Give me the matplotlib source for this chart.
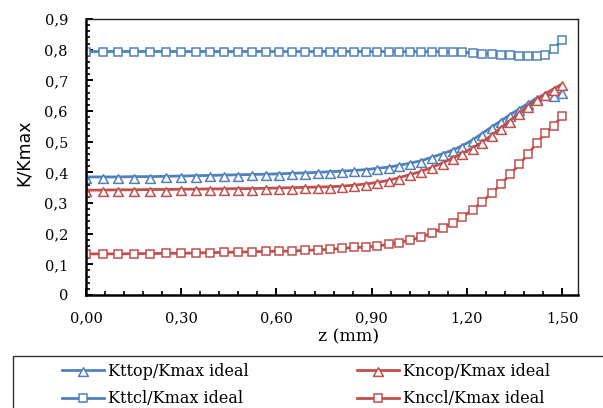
import matplotlib
matplotlib.use("Agg")
import matplotlib.pyplot as plt
from matplotlib.path import Path
from matplotlib.patches import Rectangle
from matplotlib.ticker import MultipleLocator, FuncFormatter

# ---- data ----
z = [0.000, 0.052, 0.102, 0.152, 0.201, 0.251, 0.299, 0.346, 0.390, 0.435,
     0.479, 0.523, 0.566, 0.608, 0.650, 0.689, 0.730, 0.770, 0.807, 0.844,
     0.881, 0.917, 0.954, 0.987, 1.022, 1.056, 1.089, 1.124, 1.156, 1.186,
     1.218, 1.247, 1.278, 1.307, 1.336, 1.365, 1.393, 1.420, 1.447, 1.473,
     1.500]

kttop = [0.385, 0.385, 0.385, 0.386, 0.386, 0.387, 0.388, 0.389, 0.390, 0.391,
         0.392, 0.393, 0.394, 0.395, 0.397, 0.398, 0.400, 0.402, 0.404, 0.406,
         0.409, 0.413, 0.417, 0.423, 0.430, 0.438, 0.449, 0.461, 0.473, 0.487,
         0.506, 0.526, 0.548, 0.568, 0.588, 0.607, 0.625, 0.642, 0.655, 0.651,
         0.661]

kttcl = [0.794, 0.794, 0.794, 0.794, 0.794, 0.794, 0.794, 0.794, 0.794, 0.794,
         0.794, 0.794, 0.794, 0.794, 0.794, 0.794, 0.794, 0.794, 0.794, 0.794,
         0.794, 0.794, 0.794, 0.794, 0.794, 0.794, 0.794, 0.794, 0.794, 0.792,
         0.789, 0.787, 0.786, 0.784, 0.781, 0.780, 0.778, 0.778, 0.781, 0.802,
         0.832]

kncop = [0.342, 0.342, 0.343, 0.343, 0.344, 0.344, 0.345, 0.345, 0.346, 0.346,
         0.347, 0.347, 0.348, 0.349, 0.350, 0.351, 0.352, 0.353, 0.355, 0.358,
         0.362, 0.367, 0.374, 0.383, 0.393, 0.403, 0.416, 0.431, 0.447, 0.462,
         0.480, 0.498, 0.521, 0.545, 0.569, 0.593, 0.617, 0.638, 0.657, 0.672,
         0.688]

knccl = [0.134, 0.134, 0.134, 0.135, 0.135, 0.136, 0.136, 0.137, 0.138, 0.139,
         0.140, 0.141, 0.142, 0.143, 0.143, 0.146, 0.147, 0.149, 0.152, 0.155,
         0.156, 0.160, 0.165, 0.171, 0.180, 0.188, 0.202, 0.218, 0.236, 0.254,
         0.278, 0.303, 0.332, 0.361, 0.393, 0.426, 0.459, 0.496, 0.527, 0.552,
         0.583]

labels = ["Kttop/Kmax ideal", "Kttcl/Kmax ideal",
          "Kncop/Kmax ideal", "Knccl/Kmax ideal"]

x_ticks = [0.0, 0.3, 0.6, 0.9, 1.2, 1.5]
y_ticks = [0.0, 0.1, 0.2, 0.3, 0.4, 0.5, 0.6, 0.7, 0.8, 0.9]

# ---- style ----
BLUE = "#4F81BD"
RED = "#C0504D"
SERIF = "DejaVu Serif"

# triangle marker shifted so that the line passes near its apex
tri = Path([(0, 0.56), (-1, -1.2), (1, -1.2), (0, 0.56)],
           [Path.MOVETO, Path.LINETO, Path.LINETO, Path.CLOSEPOLY])

W, H = 603, 408
fig = plt.figure(figsize=(W / 100, H / 100), dpi=100)
L, R, T, B = 86, 578, 19, 295
ax = fig.add_axes([L / W, 1 - B / H, (R - L) / W, (B - T) / H])

common = dict(lw=2.0, markerfacecolor="white", markeredgewidth=1.1)
h1, = ax.plot(z, kttop, color=BLUE, marker=tri, ms=8.5, **common)
h2, = ax.plot(z, kttcl, color=BLUE, marker="s", ms=5.3, **common)
h3, = ax.plot(z, kncop, color=RED, marker=tri, ms=8.5, **common)
h4, = ax.plot(z, knccl, color=RED, marker="s", ms=5.3, **common)

ax.set_xlim(0, 1.55)
ax.set_ylim(0, 0.9)
ax.set_xticks(x_ticks)
ax.set_yticks(y_ticks)
ax.xaxis.set_minor_locator(MultipleLocator(0.06))
ax.yaxis.set_minor_locator(MultipleLocator(0.02))
ax.xaxis.set_major_formatter(FuncFormatter(lambda v, p: f"{v:.2f}".replace(".", ",")))
ax.yaxis.set_major_formatter(FuncFormatter(
    lambda v, p: "0" if abs(v) < 1e-9 else f"{v:.1f}".replace(".", ",")))

ax.tick_params(which="both", direction="in", colors="black", top=False, right=False)
ax.tick_params(which="major", length=5, width=1.4)
ax.tick_params(which="minor", length=3, width=1.2)
ax.tick_params(axis="y", which="major", pad=13, labelsize=10.5)
ax.tick_params(axis="x", which="major", pad=12, labelsize=10.5)
for lab in ax.get_xticklabels() + ax.get_yticklabels():
    lab.set_fontfamily(SERIF)

for s in ["left", "bottom"]:
    ax.spines[s].set_linewidth(1.8)
    ax.spines[s].set_color("black")
for s in ["top", "right"]:
    ax.spines[s].set_linewidth(1.0)
    ax.spines[s].set_color("#222222")

ax.set_xlabel("z (mm)", fontsize=12.5, family=SERIF)
ax.xaxis.set_label_coords((349 - L) / (R - L), (B - 337) / (B - T))
ax.xaxis.label.set_va("center")
ax.set_ylabel("K/Kmax", fontsize=12.5, family="DejaVu Sans")
ax.yaxis.set_label_coords((24 - L) / (R - L), (B - 153) / (B - T))
ax.yaxis.label.set_va("center")

# legend frame (extends past the figure edge as in the reference)
fig.add_artist(Rectangle((13 / W, -0.2), 1.2, (H - 356) / H + 0.2,
                         transform=fig.transFigure, fill=False,
                         edgecolor="#333333", lw=1.0, clip_on=False))

leg_kw = dict(loc="upper left", frameon=False, borderpad=0, borderaxespad=0,
              handlelength=2.6, handletextpad=0.3, labelspacing=0.65,
              prop={"family": SERIF, "size": 11.5})
fig.legend([h1, h2], labels[:2], bbox_to_anchor=(62 / W, 1 - 363 / H), **leg_kw)
fig.legend([h3, h4], labels[2:], bbox_to_anchor=(357 / W, 1 - 363 / H), **leg_kw)

fig.savefig("out.png", dpi=100)
